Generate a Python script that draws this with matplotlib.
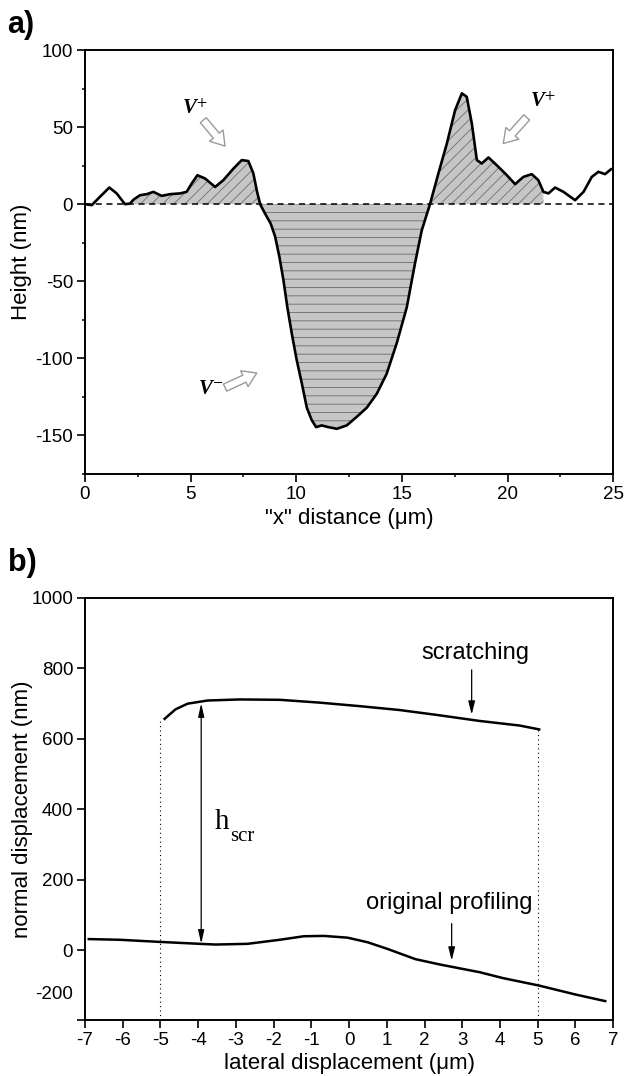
import matplotlib
matplotlib.use('Agg')
import matplotlib.pyplot as plt
import numpy as np
from matplotlib.ticker import MultipleLocator

# panel a: height profile across the scratch
prof_x = [0.0, 0.32, 0.71, 1.15, 1.5, 1.89, 2.13, 2.3, 2.6, 2.92, 3.24, 3.63, 4.02,
          4.5, 4.81, 5.05, 5.32, 5.68, 6.16, 6.55, 7.02, 7.42, 7.73, 7.97, 8.13,
          8.29, 8.52, 8.79, 9.0, 9.2, 9.39, 9.58, 9.79, 10.02, 10.26, 10.5, 10.73,
          10.94, 11.2, 11.52, 11.92, 12.39, 12.86, 13.34, 13.81, 14.28, 14.76,
          15.23, 15.62, 15.94, 16.33, 16.73, 17.13, 17.52, 17.84, 18.07, 18.31,
          18.55, 18.78, 19.1, 19.49, 19.97, 20.36, 20.75, 21.15, 21.46, 21.7,
          21.94, 22.25, 22.65, 23.2, 23.6, 23.99, 24.3, 24.62, 24.9, 25.0]
prof_y = [0.0, -0.6, 4.8, 10.8, 7.0, 0.0, 0.4, 3.0, 5.8, 6.5, 8.0, 5.4, 6.5,
          7.0, 8.0, 13.4, 18.8, 16.7, 11.2, 15.6, 23.0, 28.6, 28.0, 20.0, 9.0,
          0.0, -6.0, -12.6, -21.0, -34.0, -49.0, -67.0, -84.0, -101.0, -116.0,
          -132.0, -140.0, -144.6, -143.5, -144.6, -145.7, -143.5, -138.0, -132.0,
          -123.0, -110.0, -90.0, -67.0, -38.5, -17.0, 0.0, 20.0, 39.4, 61.0,
          71.9, 69.7, 52.4, 28.6, 26.4, 30.3, 25.3, 18.8, 13.0, 17.7, 19.5, 15.6,
          8.0, 7.0, 10.8, 8.0, 2.6, 8.0, 17.7, 21.0, 19.5, 22.7, 23.0]
pos_ranges = [(2.3, 8.29), (16.33, 21.7)]
neg_range = (8.29, 16.33)

# panel b: normal vs lateral displacement
scr_x = [-4.89, -4.6, -4.28, -3.75, -2.9, -1.84, -0.78, 0.28, 1.34, 2.4, 3.46, 4.52, 5.04]
scr_y = [656, 683, 699, 708, 711, 710, 702, 692, 681, 666, 650, 637, 626]
orig_x = [-6.9, -6.08, -5.02, -3.96, -3.54, -2.69, -1.84, -1.2, -0.67, -0.04, 0.49,
          1.02, 1.76, 2.4, 3.46, 4.09, 5.04, 5.99, 6.79]
orig_y = [31, 29, 23, 17.5, 15.5, 17.5, 29, 39, 40, 35, 22, 3, -26, -41, -63, -80,
          -101, -126, -145]
b_ticks = [-200, -121, 0, 200, 400, 600, 800, 1000]
b_ticklabels = ['', '-200', '0', '200', '400', '600', '800', '1000']

plt.rcParams['font.family'] = ['Liberation Sans', 'DejaVu Sans']
plt.rcParams['axes.unicode_minus'] = False
plt.rcParams['mathtext.fontset'] = 'stix'
plt.rcParams['hatch.linewidth'] = 0.6
serif = ['Liberation Serif', 'DejaVu Serif']


def style_axes(ax):
    for s in ax.spines.values():
        s.set_linewidth(1.4)
    ax.tick_params(direction='out', length=5.5, width=1.2, labelsize=13.5, pad=3)
    ax.tick_params(which='minor', direction='out', length=2.5, width=1.1)
    ax.tick_params(top=False, right=False, which='both')


def hollow_arrow(ax, start, end):
    ax.annotate('', xy=end, xytext=start,
                arrowprops=dict(arrowstyle='simple,head_length=0.7,head_width=0.9,tail_width=0.4',
                                fc='white', ec='#9a9a9a', lw=1, mutation_scale=14,
                                shrinkA=0, shrinkB=0))


def main():
    fig = plt.figure(figsize=(6.25, 10.76), dpi=100)
    ax1 = fig.add_axes([0.136, 0.5595, 0.845, 0.394])
    ax2 = fig.add_axes([0.136, 0.0516, 0.845, 0.393])

    # ---- panel a
    x = np.array(prof_x)
    y = np.array(prof_y)
    for lo, hi in pos_ranges:
        m = (x >= lo) & (x <= hi)
        ax1.fill_between(x, y, 0, where=m, facecolor='#c6c6c6',
                         edgecolor='#707070', hatch='///', linewidth=0, zorder=1)
    m = (x >= neg_range[0]) & (x <= neg_range[1])
    ax1.fill_between(x, y, 0, where=m, facecolor='#c6c6c6', edgecolor='#6a6a6a',
                     hatch='--', linewidth=0, zorder=1)
    ax1.axhline(0, color='black', lw=1.1, ls=(0, (4, 3)), zorder=2)
    ax1.plot(x, y, color='black', lw=1.9, zorder=3)

    ax1.set_xlim(0, 25)
    ax1.set_ylim(-175, 100)
    ax1.xaxis.set_major_locator(MultipleLocator(5))
    ax1.xaxis.set_minor_locator(MultipleLocator(2.5))
    ax1.yaxis.set_major_locator(MultipleLocator(50))
    ax1.yaxis.set_minor_locator(MultipleLocator(25))
    style_axes(ax1)
    ax1.set_xlabel('"x" distance (\u03bcm)', fontsize=16)
    ax1.set_ylabel('Height (nm)', fontsize=16)
    ax1.xaxis.set_label_coords(0.5, -0.08)
    ax1.yaxis.set_label_coords(-0.1, 0.5)

    vkw = dict(fontsize=15, fontweight='bold', fontstyle='italic', family=serif,
               ha='center', va='center')
    ax1.text(5.2, 62, 'V$^{+}$', **vkw)
    hollow_arrow(ax1, (5.6, 54.5), (6.63, 37.7))
    ax1.text(21.65, 66, 'V$^{+}$', **vkw)
    hollow_arrow(ax1, (20.91, 56.3), (19.8, 39.4))
    ax1.text(5.95, -120, 'V$^{-}$', **vkw)
    hollow_arrow(ax1, (6.63, -119), (8.13, -109.5))

    fig.text(0.012, 0.991, 'a)', fontsize=22, fontweight='bold', va='top', ha='left')

    # ---- panel b
    ax2.plot(scr_x, scr_y, color='black', lw=1.8)
    ax2.plot(orig_x, orig_y, color='black', lw=1.8)
    ax2.plot([-5, -5], [-200, scr_y[0]], color='black', lw=0.8, ls=(0, (1, 3)))
    ax2.plot([5, 5], [-200, scr_y[-1]], color='black', lw=0.8, ls=(0, (1, 3)))

    ax2.annotate('', xy=(-3.92, 700), xytext=(-3.92, 18),
                 arrowprops=dict(arrowstyle='<|-|>,head_length=0.8,head_width=0.18',
                                 color='black', lw=0.9, shrinkA=0, shrinkB=0))
    ax2.text(-3.56, 343, 'h', fontsize=21, family=serif, ha='left', va='baseline')
    ax2.text(-3.15, 309, 'scr', fontsize=15, family=serif, ha='left', va='baseline')

    ax2.text(3.35, 843, 'scratching', fontsize=17, ha='center', va='center')
    ax2.annotate('', xy=(3.25, 668), xytext=(3.25, 795),
                 arrowprops=dict(arrowstyle='-|>,head_length=0.8,head_width=0.2',
                                 color='black', lw=0.9, shrinkA=0, shrinkB=0))
    ax2.text(2.66, 134, 'original profiling', fontsize=17, ha='center', va='center')
    ax2.annotate('', xy=(2.72, -30), xytext=(2.72, 75),
                 arrowprops=dict(arrowstyle='-|>,head_length=0.8,head_width=0.2',
                                 color='black', lw=0.9, shrinkA=0, shrinkB=0))

    ax2.set_xlim(-7, 7)
    ax2.set_ylim(-200, 1000)
    ax2.set_xticks(range(-7, 8))
    ax2.set_yticks(b_ticks)
    ax2.set_yticklabels(b_ticklabels)
    style_axes(ax2)
    ax2.yaxis.get_major_ticks()[1].tick1line.set_visible(False)
    ax2.set_xlabel('lateral displacement (\u03bcm)', fontsize=16)
    ax2.set_ylabel('normal displacement (nm)', fontsize=16)
    ax2.xaxis.set_label_coords(0.5, -0.077)
    ax2.yaxis.set_label_coords(-0.098, 0.5)

    fig.text(0.012, 0.491, 'b)', fontsize=22, fontweight='bold', va='top', ha='left')

    fig.savefig('out.png', dpi=100)


if __name__ == '__main__':
    main()
